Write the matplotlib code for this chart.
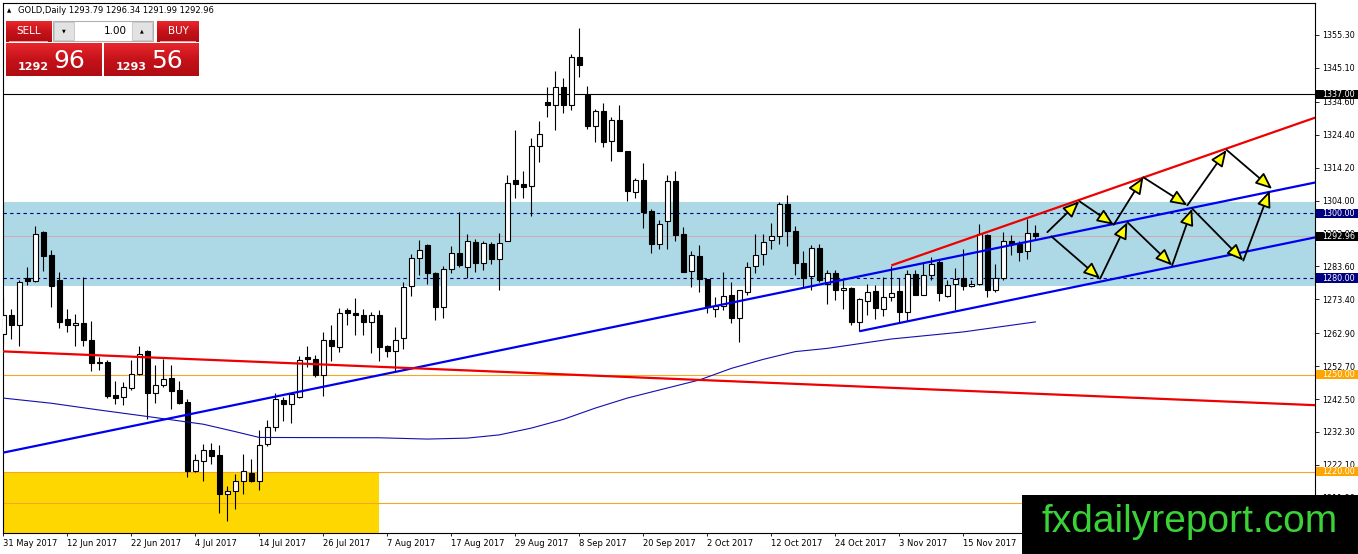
import numpy as np
import matplotlib
matplotlib.use("Agg")
import matplotlib.pyplot as plt
from matplotlib.patches import Rectangle, FancyArrowPatch
from matplotlib.colors import LinearSegmentedColormap
from matplotlib.transforms import blended_transform_factory

# =====================
# DATA (GOLD daily, 31 May 2017 - 24 Nov 2017)
# =====================
opens = [1262.7, 1268.6, 1265.5, 1280.0, 1279.1, 1294.2, 1287.0, 1279.3, 1267.2, 1265.5,
         1266.1, 1260.7, 1253.7, 1254.0, 1243.6, 1243.1, 1245.9, 1250.4, 1257.3, 1244.5,
         1246.9, 1249.1, 1245.2, 1241.6, 1220.2, 1223.3, 1226.8, 1225.1, 1213.0, 1214.0,
         1217.1, 1219.7, 1217.1, 1228.7, 1233.8, 1242.3, 1241.1, 1243.1, 1255.5, 1255.0,
         1249.8, 1260.7, 1258.6, 1270.0, 1269.2, 1268.6, 1266.4, 1268.6, 1258.9, 1257.4,
         1261.5, 1277.4, 1286.3, 1290.3, 1281.6, 1271.0, 1282.9, 1287.8, 1283.4, 1291.3,
         1284.6, 1290.4, 1285.9, 1291.6, 1310.4, 1309.2, 1308.5, 1320.8, 1334.5, 1333.6,
         1339.3, 1333.6, 1348.6, 1336.7, 1327.2, 1331.6, 1322.4, 1328.8, 1319.2, 1306.6,
         1310.5, 1300.7, 1290.4, 1297.6, 1310.2, 1293.5, 1282.1, 1286.8, 1279.6, 1270.5,
         1271.2, 1274.6, 1267.6, 1275.7, 1283.6, 1287.5, 1291.7, 1293.0, 1303.0, 1294.7,
         1284.7, 1280.6, 1289.4, 1278.2, 1281.6, 1276.2, 1277.0, 1266.4, 1272.9, 1275.9,
         1270.5, 1274.1, 1275.9, 1269.5, 1281.3, 1274.8, 1281.0, 1284.9, 1274.4, 1278.0,
         1280.0, 1277.5, 1278.2, 1293.2, 1276.4, 1280.1, 1291.6, 1290.6, 1288.3, 1293.79]
highs = [1274.1, 1270.4, 1279.4, 1283.4, 1296.0, 1294.7, 1288.7, 1281.8, 1270.3, 1268.7,
         1280.3, 1266.6, 1255.5, 1254.5, 1248.0, 1247.8, 1254.7, 1258.9, 1257.6, 1252.9,
         1254.8, 1253.2, 1248.1, 1242.6, 1225.6, 1228.7, 1228.9, 1228.4, 1215.6, 1219.4,
         1225.6, 1224.0, 1232.8, 1235.9, 1244.5, 1243.1, 1244.5, 1255.7, 1258.9, 1256.0,
         1263.4, 1265.3, 1270.7, 1270.7, 1273.9, 1270.5, 1269.4, 1270.0, 1259.1, 1264.8,
         1278.7, 1287.5, 1291.9, 1290.4, 1281.8, 1283.6, 1289.9, 1300.4, 1293.5, 1292.2,
         1291.4, 1291.1, 1294.0, 1311.8, 1325.7, 1313.3, 1323.3, 1328.5, 1339.3, 1344.1,
         1342.0, 1349.4, 1357.5, 1339.6, 1332.4, 1334.3, 1329.8, 1333.7, 1319.5, 1311.0,
         1315.6, 1301.4, 1298.0, 1311.8, 1313.3, 1295.8, 1288.5, 1290.1, 1279.8, 1274.1,
         1281.8, 1278.7, 1276.4, 1284.9, 1293.7, 1293.5, 1297.0, 1303.5, 1305.6, 1296.0,
         1288.5, 1290.1, 1290.4, 1282.4, 1282.4, 1279.5, 1277.2, 1273.9, 1278.2, 1277.7,
         1280.3, 1283.6, 1280.0, 1282.4, 1282.4, 1285.1, 1286.5, 1286.0, 1279.3, 1283.2,
         1289.1, 1279.3, 1296.8, 1293.7, 1284.4, 1294.2, 1293.2, 1291.6, 1298.4, 1296.34]
lows = [1259.1, 1261.2, 1258.9, 1277.7, 1278.9, 1282.3, 1271.0, 1264.6, 1263.3, 1258.9,
        1258.9, 1251.2, 1251.4, 1242.9, 1241.1, 1240.8, 1245.4, 1249.8, 1236.4, 1241.4,
        1246.2, 1239.5, 1241.1, 1218.4, 1219.9, 1217.1, 1222.5, 1207.2, 1204.7, 1208.3,
        1213.2, 1216.8, 1214.4, 1227.9, 1232.6, 1235.7, 1235.1, 1242.9, 1252.4, 1249.3,
        1243.3, 1254.3, 1257.1, 1265.3, 1262.2, 1262.2, 1256.8, 1254.2, 1255.5, 1250.9,
        1258.0, 1274.3, 1280.8, 1278.2, 1267.1, 1267.6, 1281.6, 1283.4, 1280.1, 1281.8,
        1282.4, 1284.4, 1276.4, 1291.4, 1304.9, 1304.9, 1299.2, 1315.9, 1329.8, 1325.9,
        1331.1, 1332.1, 1342.4, 1326.2, 1322.1, 1320.5, 1316.2, 1319.3, 1304.0, 1304.9,
        1295.6, 1287.7, 1289.1, 1288.9, 1291.6, 1281.8, 1277.2, 1275.6, 1269.1, 1267.9,
        1270.0, 1266.0, 1260.2, 1274.6, 1281.5, 1283.9, 1289.1, 1290.4, 1289.8, 1280.8,
        1277.2, 1276.4, 1278.7, 1272.0, 1273.3, 1270.5, 1265.3, 1263.6, 1268.4, 1267.4,
        1268.1, 1273.0, 1266.4, 1266.7, 1274.6, 1274.6, 1279.5, 1272.9, 1274.1, 1270.0,
        1276.4, 1277.2, 1277.7, 1274.1, 1275.6, 1279.3, 1287.0, 1285.2, 1286.0, 1291.99]
closes = [1268.4, 1265.5, 1278.9, 1279.1, 1293.7, 1286.8, 1277.5, 1266.4, 1265.5, 1266.1,
          1260.7, 1253.8, 1253.8, 1243.4, 1242.8, 1246.2, 1250.4, 1256.5, 1244.4, 1247.0,
          1248.8, 1245.0, 1241.4, 1220.2, 1223.5, 1226.8, 1224.9, 1213.0, 1214.0, 1217.0,
          1220.2, 1217.1, 1228.4, 1233.8, 1242.4, 1241.1, 1244.2, 1254.7, 1255.0, 1250.0,
          1260.7, 1258.9, 1269.2, 1269.1, 1268.6, 1266.4, 1268.4, 1258.6, 1257.4, 1260.9,
          1277.2, 1286.3, 1288.7, 1281.5, 1271.0, 1282.9, 1287.8, 1283.9, 1291.6, 1284.6,
          1290.8, 1285.9, 1290.9, 1309.5, 1309.2, 1308.2, 1321.0, 1324.7, 1333.6, 1339.3,
          1333.6, 1348.6, 1346.0, 1327.0, 1331.6, 1322.1, 1329.1, 1319.5, 1306.9, 1310.5,
          1300.4, 1290.4, 1296.8, 1310.2, 1293.2, 1282.0, 1287.0, 1279.8, 1271.0, 1271.2,
          1274.3, 1267.6, 1276.2, 1283.4, 1287.2, 1291.1, 1293.0, 1303.0, 1294.5, 1284.6,
          1280.1, 1289.4, 1279.5, 1281.5, 1276.2, 1277.0, 1266.4, 1273.6, 1275.6, 1270.8,
          1274.1, 1275.3, 1269.5, 1281.3, 1274.8, 1281.0, 1284.4, 1275.4, 1277.9, 1279.8,
          1277.4, 1278.2, 1293.7, 1276.4, 1280.0, 1291.6, 1290.6, 1288.0, 1294.0, 1292.96]

date_labels = ["31 May 2017", "12 Jun 2017", "22 Jun 2017", "4 Jul 2017", "14 Jul 2017",
               "26 Jul 2017", "7 Aug 2017", "17 Aug 2017", "29 Aug 2017", "8 Sep 2017",
               "20 Sep 2017", "2 Oct 2017", "12 Oct 2017", "24 Oct 2017", "3 Nov 2017",
               "15 Nov 2017"]
date_bars = [0, 8, 16, 24, 32, 40, 48, 56, 64, 72, 80, 88, 96, 104, 112, 120]

price_ticks = [1355.30, 1345.10, 1334.60, 1324.40, 1314.20, 1304.00, 1293.80, 1283.60,
               1273.40, 1262.90, 1252.70, 1242.50, 1232.30, 1222.10, 1211.90]

# moving average (at these bars)
ma_bars = [0, 6, 12, 18, 25, 29, 32, 47, 53, 58, 62, 66, 70, 74, 78, 82, 87, 91, 95, 99,
           103, 111, 120, 129]
ma_values = [1242.8, 1241.2, 1239.1, 1237.1, 1234.7, 1232.4, 1230.6, 1230.5, 1230.1, 1230.4,
             1231.4, 1233.5, 1236.2, 1239.7, 1242.8, 1245.3, 1248.4, 1252.0, 1254.8, 1257.2,
             1258.2, 1261.1, 1263.3, 1266.4]

# zone and levels
zone_low, zone_high = 1277.6, 1303.5
dashed_levels = [1300.0, 1280.0]
orange_levels = [1250.0, 1220.0, 1210.2]
resist_level = 1337.0
bid_level = 1292.96
gold_box = (-5, 47, 1190.0, 1220.0)   # bar from, bar to, price low, price high

# trend lines: (bar, price) end points
blue_trend = [(-0.4, 1225.7), (164.0, 1309.6)]
red_trend = [(-0.4, 1257.3), (164.0, 1240.6)]
red_channel = [(111.0, 1283.9), (164.0, 1329.7)]
blue_channel = [(107.0, 1263.5), (164.0, 1292.6)]

# projected zigzag paths
path_upper = [(130.5, 1294.2), (134.5, 1303.8), (138.8, 1296.5), (142.5, 1311.2),
              (148.0, 1302.5), (152.9, 1319.7), (158.6, 1307.6)]
path_lower = [(131.0, 1292.9), (137.1, 1279.8), (140.5, 1297.3), (146.1, 1283.9),
              (148.6, 1301.5), (155.0, 1285.4), (158.3, 1307.1)]

# price labels on the right axis: (price, background)
axis_marks = [(1337.00, "black"), (1300.00, "#000080"), (1292.96, "black"),
              (1280.00, "#000080"), (1250.00, "#ffa500"), (1220.00, "#ffa500")]

# =====================
# FIGURE
# =====================
W, H = 1358, 554
fig = plt.figure(figsize=(W / 100, H / 100), dpi=100)
fig.patch.set_facecolor("white")


def fx(x):
    return x / W


def fy(y):
    return 1 - y / H


ax = fig.add_axes([fx(3), fy(533), (1315 - 3) / W, (533 - 3) / H])
ax.set_xlim(-0.04, 163.96)
ax.set_ylim(1201.0, 1365.2)

# zone band + levels
ax.axhspan(zone_low, zone_high, color="#add8e6", zorder=0.5, lw=0)
for lv in dashed_levels:
    ax.axhline(lv, color="#000080", lw=0.8, ls=(0, (3, 3)), zorder=1)
ax.axhline(bid_level, color="#d6a2a8", lw=0.6, zorder=1)
ax.axhline(resist_level, color="black", lw=0.8, zorder=1)
for lv in orange_levels:
    ax.axhline(lv, color="#f5a623", lw=0.8, zorder=1.2)
b0, b1, p0, p1 = gold_box
ax.add_patch(Rectangle((b0, p0), b1 - b0, p1 - p0, facecolor="#ffd700", edgecolor="none", zorder=1.1))

# candles
x = np.arange(len(opens))
o = np.array(opens)
c = np.array(closes)
ax.vlines(x, lows, highs, color="black", lw=0.8, zorder=4)
body_bottom = np.minimum(o, c)
body_height = np.maximum(np.abs(c - o), 0.35)
body_colors = ["white" if cc >= oo else "black" for oo, cc in zip(o, c)]
ax.bar(x, body_height, bottom=body_bottom, width=0.62, color=body_colors,
       edgecolor="black", linewidth=0.8, zorder=5)

# moving average
ax.plot(ma_bars, ma_values, color="#1010b0", lw=0.8, zorder=6)

# trend lines
for line, col in [(blue_trend, "#0000ee"), (red_trend, "#ee0000"),
                  (red_channel, "#ee0000"), (blue_channel, "#0000ee")]:
    xs, ys = zip(*line)
    ax.plot(xs, ys, color=col, lw=1.6, zorder=6, solid_capstyle="butt")

# arrows
for path in (path_upper, path_lower):
    for a, b in zip(path[:-1], path[1:]):
        arr = FancyArrowPatch(a, b, arrowstyle="-|>,head_length=1.0,head_width=0.42",
                              mutation_scale=10, facecolor="#ffff00", edgecolor="black",
                              lw=1.3, shrinkA=0, shrinkB=0, zorder=7)
        ax.add_patch(arr)

# axes styling
for s in ax.spines.values():
    s.set_color("black")
    s.set_linewidth(0.8)
ax.yaxis.tick_right()
ax.set_yticks(price_ticks)
ax.set_yticklabels([f"{v:.2f}" for v in price_ticks])
ax.set_xticks(date_bars)
ax.set_xticklabels(date_labels)
for lab in ax.get_xticklabels():
    lab.set_ha("left")
ax.tick_params(axis="y", labelsize=5.8, length=3, width=0.6, pad=2.2, colors="black")
ax.tick_params(axis="x", labelsize=6, length=2.5, width=0.6, pad=1.5, colors="black")

# highlighted price labels on the right axis
trans = blended_transform_factory(ax.transAxes, ax.transData)
for price, bg in axis_marks:
    ax.add_patch(Rectangle((1.0008, price - 1.4), 0.0325, 2.8, transform=trans,
                           facecolor=bg, edgecolor="none", clip_on=False, zorder=8))
    ax.text(1.0053, price, f"{price:.2f}", transform=trans, color="white", fontsize=5.8,
            ha="left", va="center", clip_on=False, zorder=9)

# =====================
# HEADER + ONE CLICK TRADING PANEL
# =====================
fig.text(fx(7), fy(10.5), "\u25b2", fontsize=4, ha="left", va="center")
fig.text(fx(18), fy(10.5), "GOLD,Daily 1293.79 1296.34 1291.99 1292.96",
         fontsize=6, ha="left", va="center")

red_cmap = LinearSegmentedColormap.from_list("redbtn", ["#e8272c", "#c5121a", "#b00c12"])


def red_box(x0, y0, x1, y1):
    a = fig.add_axes([fx(x0), fy(y1), (x1 - x0) / W, (y1 - y0) / H])
    a.imshow(np.linspace(0, 1, 60).reshape(-1, 1), cmap=red_cmap, aspect="auto")
    a.set_axis_off()


red_box(6, 21, 52, 42)
red_box(157, 21, 199, 42)
red_box(6, 43, 102, 76)
red_box(104, 43, 199, 76)

fig.add_artist(Rectangle((fx(9), fy(41.5)), (48 - 9) / W, 0.8 / H, transform=fig.transFigure,
                         facecolor="#f59a9a", edgecolor="none", zorder=2))
fig.add_artist(Rectangle((fx(160), fy(41.5)), (196 - 160) / W, 0.8 / H, transform=fig.transFigure,
                         facecolor="#f59a9a", edgecolor="none", zorder=2))
fig.text(fx(29), fy(31), "SELL", color="white", fontsize=7.5, ha="center", va="center")
fig.text(fx(178), fy(31), "BUY", color="white", fontsize=7.5, ha="center", va="center")

# lot size spin box
fig.add_artist(Rectangle((fx(53), fy(41)), 100 / W, 20 / H, transform=fig.transFigure,
                         facecolor="white", edgecolor="#b0b0b0", lw=0.8, zorder=2))
for bx in (54, 132):
    fig.add_artist(Rectangle((fx(bx), fy(40)), 20 / W, 18 / H, transform=fig.transFigure,
                             facecolor="#e2e2e2", edgecolor="#c4c4c4", lw=0.6, zorder=2.1))
fig.text(fx(64), fy(31), "\u25bc", fontsize=3.5, ha="center", va="center")
fig.text(fx(142), fy(31), "\u25b2", fontsize=3.5, ha="center", va="center")
fig.text(fx(127), fy(30.5), "1.00", fontsize=7.5, ha="right", va="center")

# bid / ask prices
fig.text(fx(49), fy(70), "1292", color="white", fontsize=8, fontweight="bold",
         ha="right", va="baseline")
fig.text(fx(53), fy(68), "96", color="white", fontsize=18, ha="left", va="baseline")
fig.text(fx(147), fy(70), "1293", color="white", fontsize=8, fontweight="bold",
         ha="right", va="baseline")
fig.text(fx(151), fy(68), "56", color="white", fontsize=18, ha="left", va="baseline")

# watermark box
fig.add_artist(Rectangle((fx(1022), 0), (W - 1022) / W, (H - 495) / H, transform=fig.transFigure,
                         facecolor="black", edgecolor="none", zorder=5))
fig.text(fx(1190), fy(532), "fxdailyreport.com", color="#3ad236", fontsize=28,
         family="Liberation Sans", ha="center", va="baseline", zorder=6)

fig.savefig("out.png", dpi=100, facecolor="white")
